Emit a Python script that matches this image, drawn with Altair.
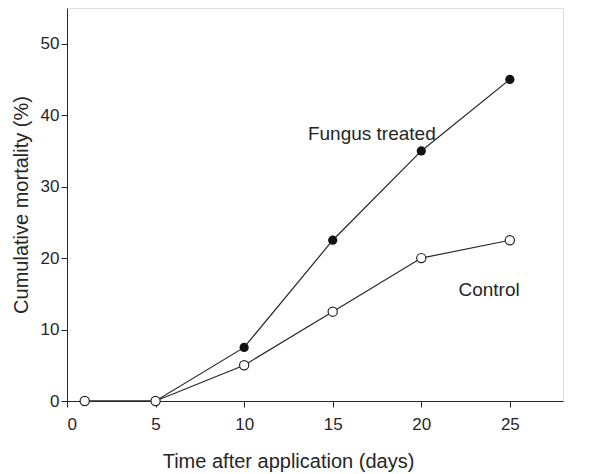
import altair as alt
import pandas as pd

days = [1, 5, 10, 15, 20, 25]
fungus = [0, 0, 7.5, 22.5, 35, 45]
control = [0, 0, 5, 12.5, 20, 22.5]
x_ticks = [0, 5, 10, 15, 20, 25]
y_ticks = [0, 10, 20, 30, 40, 50]

label_text = ["Fungus treated", "Control"]
label_x = [13.6, 22.1]
label_y = [37.3, 15.5]

df = pd.DataFrame({
    "day": days * 2,
    "mort": fungus + control,
    "series": ["Fungus treated"] * len(days) + ["Control"] * len(days),
})
lab = pd.DataFrame({"t": label_text, "x": label_x, "y": label_y})

FONT = "Liberation Sans"
C = "#262626"
xs = alt.Scale(domain=[0, 28], nice=False, zero=False)
ys = alt.Scale(domain=[0, 55], nice=False)

xax = alt.Axis(values=x_ticks, title="Time after application (days)", grid=False,
               tickSize=6, labelPadding=9, titlePadding=19, domainColor=C,
               tickColor=C, labelColor=C, titleColor=C,
               labelFontSize=17, titleFontSize=20, labelFont=FONT, titleFont=FONT,
               titleFontWeight="normal", titleX=221, titleAlign="center")
yax = alt.Axis(values=y_ticks, title="Cumulative mortality (%)", grid=False,
               tickSize=6, labelPadding=2, titlePadding=9, domainColor=C,
               tickColor=C, labelColor=C, titleColor=C,
               labelFontSize=17, titleFontSize=20, labelFont=FONT, titleFont=FONT,
               titleFontWeight="normal")

lines = alt.Chart(df).mark_line(color=C, strokeWidth=1.2).encode(
    x=alt.X("day:Q", scale=xs, axis=xax),
    y=alt.Y("mort:Q", scale=ys, axis=yax),
    detail="series:N",
)
pts_f = alt.Chart(df[df.series == "Fungus treated"]).mark_point(
    shape="circle", filled=True, size=85, color="#111", opacity=1
).encode(x=alt.X("day:Q", scale=xs), y=alt.Y("mort:Q", scale=ys))
pts_c = alt.Chart(df[df.series == "Control"]).mark_point(
    shape="circle", filled=True, size=85, fill="white", stroke=C,
    strokeWidth=1.2, opacity=1
).encode(x=alt.X("day:Q", scale=xs), y=alt.Y("mort:Q", scale=ys))
texts = alt.Chart(lab).mark_text(
    align="left", baseline="middle", fontSize=19, font=FONT, color=C
).encode(x=alt.X("x:Q", scale=xs), y=alt.Y("y:Q", scale=ys), text="t:N")

chart = alt.layer(lines, pts_f, pts_c, texts).properties(
    width=496, height=393,
    padding={"left": 59, "top": 0, "right": 20, "bottom": 73},
    autosize=alt.AutoSizeParams(type="none"),
).configure_view(stroke=None).configure(background="white")

chart.save("out.html", embed_options={"renderer": "svg", "actions": False})
